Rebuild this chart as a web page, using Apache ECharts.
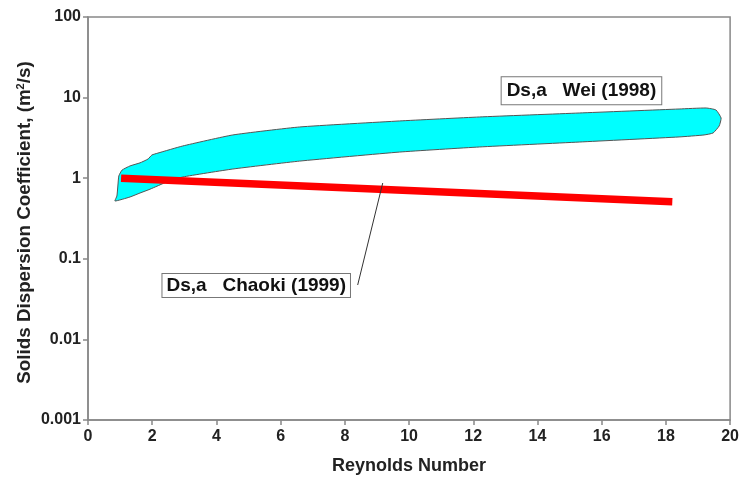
<!DOCTYPE html>
<html>
<head>
<meta charset="utf-8">
<script src="https://cdn.jsdelivr.net/npm/echarts@6/dist/echarts.min.js"></script>
<style>
html,body{margin:0;padding:0;background:#fff;}
#chart{width:742px;height:481px;}
</style>
</head>
<body>
<div id="chart"></div>
<script>
// Wei (1998) band outline (closed polygon): upper edge left->right, then lower edge right->left
const weiX = [0.84, 0.90, 0.93, 0.96, 1.06, 1.31, 1.62, 1.87, 1.99, 2.18, 2.95, 4.51, 6.59, 9.70, 12.19, 15.30, 18.41, 19.25, 19.56, 19.72, 19.66, 19.47, 19.19,
              18.41, 15.30, 12.19, 9.70, 6.59, 4.51, 2.95, 2.46, 1.93, 1.62, 1.31];
const weiY = [0.521, 0.601, 0.80, 1.065, 1.26, 1.42, 1.55, 1.73, 1.94, 2.05, 2.51, 3.44, 4.32, 5.13, 5.75, 6.44, 7.22, 7.43, 7.02, 5.58, 4.45, 3.64, 3.44,
              3.25, 2.81, 2.44, 2.11, 1.63, 1.30, 1.035, 0.90, 0.73, 0.655, 0.585];
// Chaoki (1999) line
const chaokiX = [1.03, 18.2];
const chaokiY = [1.0, 0.51];
// Annotation labels
const weiLabel = 'Ds,a   Wei (1998)';
const chaokiLabel = 'Ds,a   Chaoki (1999)';
const weiLabelPos = [15.37, 12.2];
const chaokiLabelPos = [5.24, 0.0467];
const leaderFrom = [9.18, 0.871];
const leaderTo = [8.40, 0.0473];
// Axis ticks
const xTicks = [0, 2, 4, 6, 8, 10, 12, 14, 16, 18, 20];
const yTicks = [0.001, 0.01, 0.1, 1, 10, 100];
const yTickLabels = ['0.001', '0.01', '0.1', '1', '10', '100'];

const FONT = '"Liberation Sans", Arial, sans-serif';
const chart = echarts.init(document.getElementById('chart'), null, {renderer: 'canvas'});

function yLabel(v) {
  let best = 0, bd = Infinity;
  for (let i = 0; i < yTicks.length; i++) {
    const d = Math.abs(Math.log10(v) - Math.log10(yTicks[i]));
    if (d < bd) { bd = d; best = i; }
  }
  return yTickLabels[best];
}

const boxLabel = {
  show: true,
  position: 'inside',
  color: '#111',
  opacity: 1,
  fontFamily: FONT,
  fontWeight: 'bold',
  fontSize: 19,
  lineHeight: 19,
  backgroundColor: '#fff',
  borderColor: '#777',
  borderWidth: 1,
  padding: [2, 4, 2, 4]
};

chart.setOption({
  animation: false,
  backgroundColor: '#fff',
  grid: {left: 88, right: 11, top: 17, bottom: 61, show: true, borderColor: '#888', borderWidth: 1.5, backgroundColor: 'transparent'},
  xAxis: {
    type: 'value', min: xTicks[0], max: xTicks[xTicks.length - 1], interval: 2,
    axisLine: {show: true, lineStyle: {color: '#888', width: 1.5}},
    axisTick: {show: true, length: 5, lineStyle: {color: '#888', width: 1.5}},
    splitLine: {show: false},
    axisLabel: {color: '#222', fontFamily: FONT, fontWeight: 'bold', fontSize: 16, margin: 9},
    name: 'Reynolds Number', nameLocation: 'middle', nameGap: 37,
    nameTextStyle: {color: '#222', fontFamily: FONT, fontWeight: 'bold', fontSize: 18}
  },
  yAxis: {
    type: 'log', logBase: 10, min: yTicks[0], max: yTicks[yTicks.length - 1],
    axisLine: {show: true, lineStyle: {color: '#888', width: 1.5}},
    axisTick: {show: true, length: 5, lineStyle: {color: '#888', width: 1.5}},
    minorTick: {show: false},
    splitLine: {show: false},
    axisLabel: {color: '#222', fontFamily: FONT, fontWeight: 'bold', fontSize: 16, margin: 7, formatter: yLabel},
    name: 'Solids Dispersion Coefficient, (m{sup|2}/s)', nameLocation: 'middle', nameGap: 54, nameRotate: 90,
    nameMoveOverlap: false,
    nameTextStyle: {color: '#222', fontFamily: FONT, fontWeight: 'bold', fontSize: 18.8, padding: [0, 8, 0, 0],
      rich: {sup: {fontFamily: FONT, fontWeight: 'bold', fontSize: 11, verticalAlign: 'top', color: '#222', padding: [0, 0, 7, 0]}}}
  },
  series: [
    {
      name: 'Wei (1998)',
      type: 'custom',
      data: [[weiX[0], weiY[0]]],
      z: 2,
      renderItem: function (params, api) {
        const pts = weiX.map((x, i) => api.coord([x, weiY[i]]));
        return {
          type: 'polygon',
          shape: {points: pts, smooth: 0.15},
          style: {fill: '#00FFFF', stroke: '#555', lineWidth: 1}
        };
      }
    },
    {
      name: 'Chaoki (1999)',
      type: 'line',
      data: chaokiX.map((x, i) => [x, chaokiY[i]]),
      symbol: 'none',
      z: 3,
      lineStyle: {color: '#FF0000', width: 7.5, cap: 'butt'},
      markLine: {
        silent: true,
        symbol: ['none', 'none'],
        label: {show: false},
        lineStyle: {color: '#333', width: 1, type: 'solid'},
        data: [[{coord: leaderFrom}, {coord: leaderTo}]]
      }
    },
    {
      name: 'labels',
      type: 'scatter',
      symbol: 'rect',
      symbolSize: 1,
      z: 5,
      itemStyle: {color: '#fff', opacity: 1},
      data: [
        {value: weiLabelPos, label: Object.assign({}, boxLabel, {formatter: weiLabel, padding: [4, 5, 4, 5]})},
        {value: chaokiLabelPos, label: Object.assign({}, boxLabel, {formatter: chaokiLabel})}
      ]
    }
  ]
});
</script>
</body>
</html>
